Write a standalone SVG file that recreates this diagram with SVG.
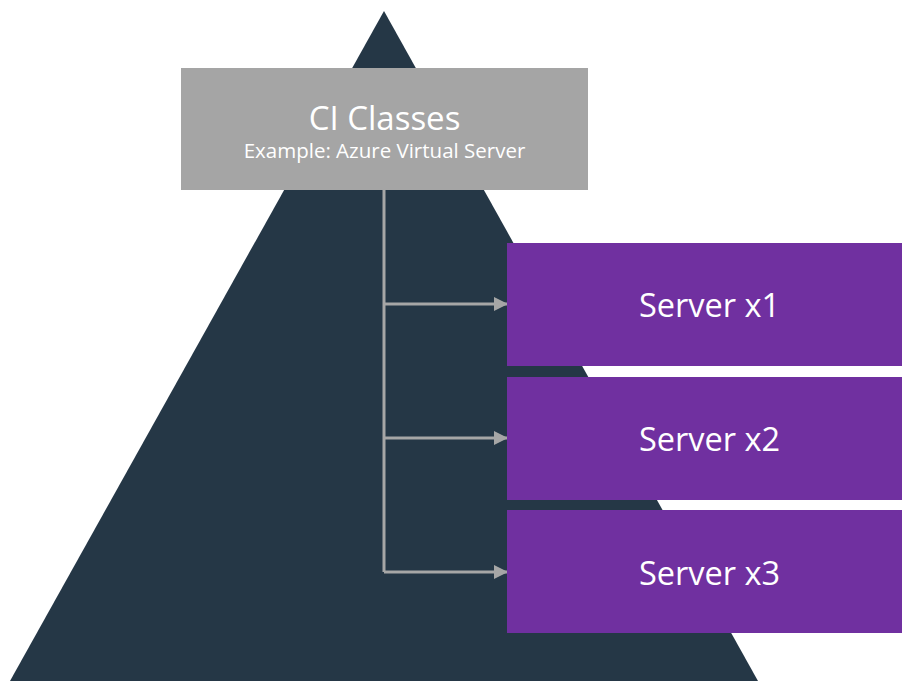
<svg xmlns="http://www.w3.org/2000/svg" width="902" height="681" viewBox="0 0 902 681">
<defs>
<style>
.t{font-family:"Segoe UI","Open Sans","Noto Sans",sans-serif;fill:#ffffff;text-anchor:middle}
.srv{fill:#7030A0}
.c{stroke:#A6A6A6;stroke-width:3;fill:none}
</style>
<marker id="ah" markerWidth="14" markerHeight="14" refX="13" refY="7" orient="auto" markerUnits="userSpaceOnUse">
<path d="M0,0 L14,7 L0,14 Z" fill="#A6A6A6"/>
</marker>
</defs>
<rect width="902" height="681" fill="#ffffff"/>
<polygon id="pyramid" points="384,11 758,681 10,681" fill="#253746"/>
<g id="ci-classes">
<rect x="181" y="68" width="407" height="122" fill="#A5A5A5"/>
<text class="t" x="384.5" y="130" font-size="33">CI Classes</text>
<text class="t" x="384.5" y="158" font-size="20.5">Example: Azure Virtual Server</text>
</g>
<g id="connectors">
<path class="c" d="M384,190 V572"/>
<path class="c" d="M384,304 H507" marker-end="url(#ah)"/>
<path class="c" d="M384,438 H507" marker-end="url(#ah)"/>
<path class="c" d="M384,572 H507" marker-end="url(#ah)"/>
</g>
<g id="server-x1">
<rect class="srv" x="507" y="243" width="405" height="123"/>
<text class="t" x="709.5" y="317" font-size="32.5">Server x1</text>
</g>
<g id="server-x2">
<rect class="srv" x="507" y="377" width="405" height="123"/>
<text class="t" x="709.5" y="451" font-size="32.5">Server x2</text>
</g>
<g id="server-x3">
<rect class="srv" x="507" y="510" width="405" height="123"/>
<text class="t" x="709.5" y="585" font-size="32.5">Server x3</text>
</g>
</svg>
